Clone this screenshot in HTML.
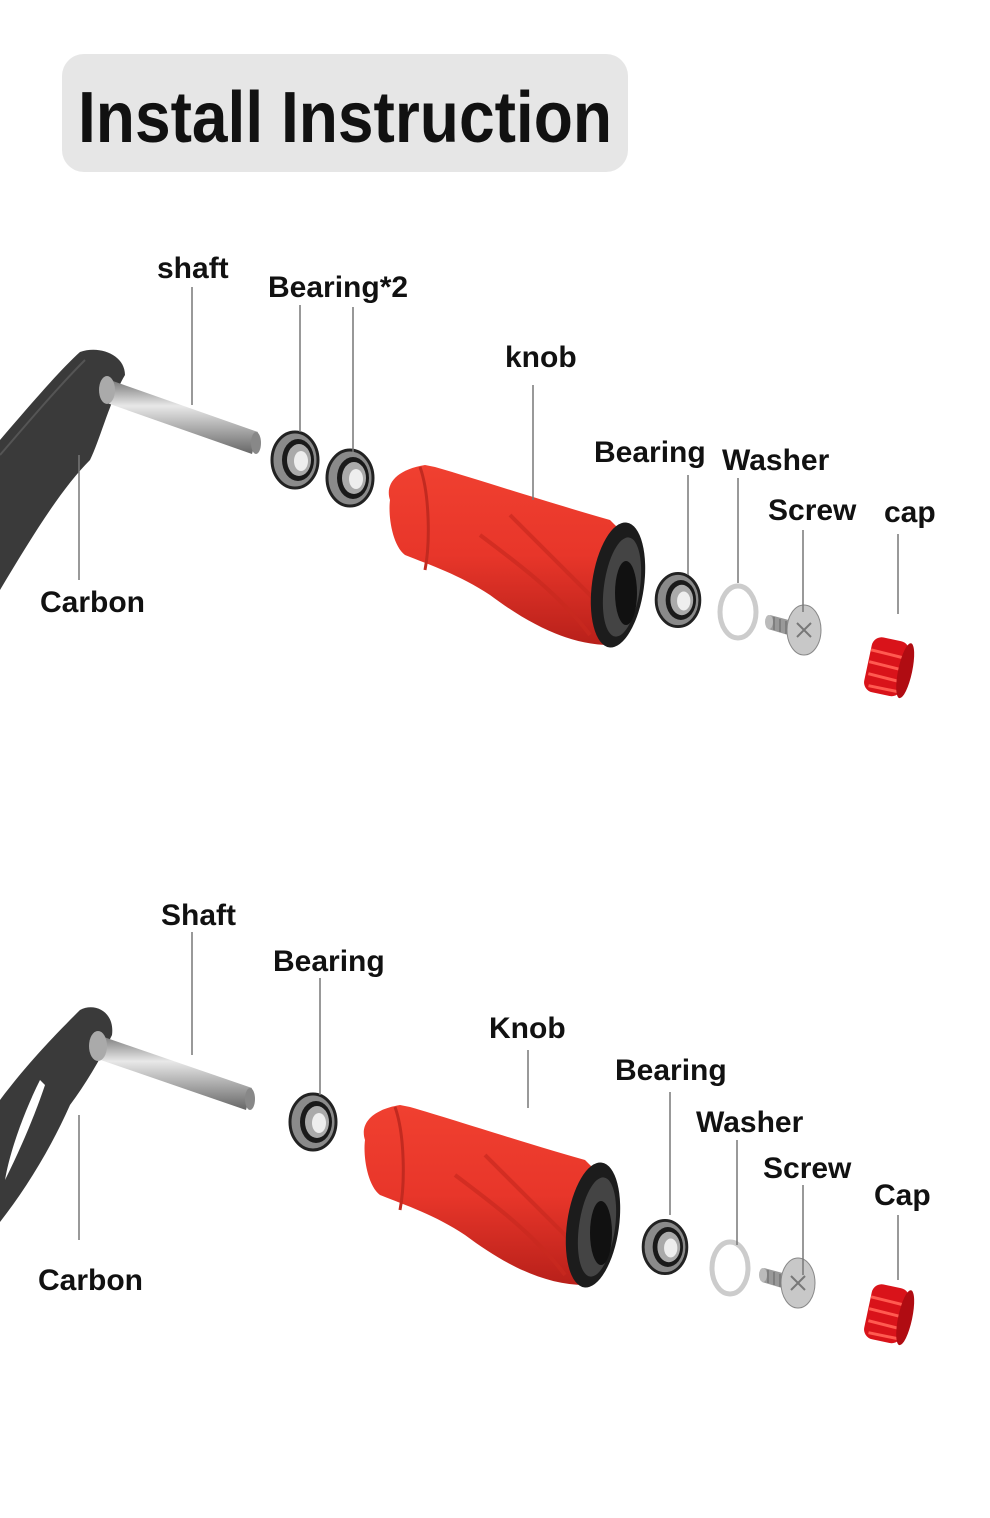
<!DOCTYPE html>
<html><head><meta charset="utf-8"><style>
html,body{margin:0;padding:0;background:#fff;}
svg{display:block}
.l{font-family:"Liberation Sans",sans-serif;font-weight:bold;font-size:30px;fill:#111}
.t{font-family:"Liberation Sans",sans-serif;font-weight:bold;font-size:72px;fill:#111}
.ln{stroke:#777;stroke-width:1.5}
</style></head><body>
<svg width="990" height="1518" viewBox="0 0 990 1518" xmlns="http://www.w3.org/2000/svg">
<defs>
<linearGradient id="sh" x1="0" y1="0" x2="0" y2="1"><stop offset="0" stop-color="#777"/><stop offset="0.35" stop-color="#e8e8e8"/><stop offset="1" stop-color="#666"/></linearGradient>
<linearGradient id="kn" x1="0" y1="0" x2="0" y2="1"><stop offset="0" stop-color="#f04030"/><stop offset="0.5" stop-color="#e8362a"/><stop offset="1" stop-color="#b8201a"/></linearGradient>
<g id="bear"><ellipse cx="0" cy="0" rx="23" ry="28" fill="#8a8a8a" stroke="#222" stroke-width="3"/><ellipse cx="3" cy="0" rx="16" ry="21" fill="#1a1a1a"/><ellipse cx="4" cy="0" rx="12" ry="16" fill="#aaa"/><ellipse cx="6" cy="1" rx="7" ry="10" fill="#eee"/></g>
<g id="knob">
<path d="M0,25 C-5,10 5,-5 35,-10 L45,-8 C90,5 150,25 220,45 L235,60 C250,120 245,160 220,170 C180,170 140,150 100,120 C70,100 40,90 15,80 C2,70 -2,40 0,25Z" fill="url(#kn)"/>
<path d="M30,-8 C40,20 40,70 35,95" stroke="#c22a20" stroke-width="3" fill="none"/>
<path d="M90,60 C130,90 170,120 200,160 M120,40 C150,70 180,100 210,130" stroke="#c9291f" stroke-width="4" fill="none" opacity="0.7"/>
<ellipse cx="228" cy="110" rx="26" ry="63" transform="rotate(8 228 110)" fill="#1c1c1c"/>
<ellipse cx="232" cy="112" rx="18" ry="50" transform="rotate(8 232 112)" fill="#444"/>
<ellipse cx="236" cy="118" rx="11" ry="32" fill="#111"/>
</g>
<g id="screw"><path d="M0,-7 L30,1 L28,16 L-2,7Z" fill="#999"/><path d="M4,-5 L4,8 M10,-3 L10,10 M16,-1 L16,12 M22,1 L22,14" stroke="#777" stroke-width="1.5"/><ellipse cx="-1" cy="0" rx="4" ry="7" fill="#bbb"/><ellipse cx="34" cy="8" rx="17" ry="25" fill="#c8c8c8" stroke="#888"/><path d="M27,1 L41,15 M41,1 L27,15" stroke="#777" stroke-width="2"/></g>
<g id="cap"><rect x="-20" y="-26" width="38" height="56" rx="10" transform="rotate(12)" fill="#d9131a"/><path d="M-18,-14 L16,-8 M-19,-2 L15,4 M-19,10 L14,16 M-18,22 L12,26" stroke="#ff5a50" stroke-width="3" transform="rotate(4)"/><ellipse cx="18" cy="2" rx="7" ry="28" transform="rotate(12)" fill="#b00c12"/></g>
</defs>

<rect x="62" y="54" width="566" height="118" rx="22" fill="#e6e6e6"/>
<text class="t" x="78" y="142" textLength="534" lengthAdjust="spacingAndGlyphs">Install Instruction</text>

<!-- TOP -->
<path d="M0,440 C30,405 60,370 80,352 C100,345 125,355 125,375 C110,400 100,440 90,460 C60,490 30,540 0,590Z" fill="#3a3a3a"/>
<path d="M0,455 C30,420 60,385 85,360" stroke="#555" stroke-width="2" fill="none"/>
<path d="M110,380 L258,432 L252,454 L104,402Z" fill="url(#sh)"/>
<ellipse cx="107" cy="390" rx="8" ry="14" fill="#aaa"/>
<ellipse cx="256" cy="443" rx="5" ry="11" fill="#888"/>
<use href="#bear" x="295" y="460"/>
<use href="#bear" x="350" y="478"/>
<use href="#knob" x="390" y="475"/>
<use href="#bear" transform="translate(678,600) scale(0.95)"/>
<ellipse cx="738" cy="612" rx="18" ry="26" fill="none" stroke="#ccc" stroke-width="5"/>
<use href="#screw" x="770" y="622"/>
<use href="#cap" x="888" y="665"/>

<text class="l" x="157" y="278">shaft</text><line class="ln" x1="192" y1="287" x2="192" y2="405"/>
<text class="l" x="268" y="297">Bearing*2</text><line class="ln" x1="300" y1="305" x2="300" y2="432"/><line class="ln" x1="353" y1="307" x2="353" y2="452"/>
<text class="l" x="505" y="367">knob</text><line class="ln" x1="533" y1="385" x2="533" y2="500"/>
<text class="l" x="594" y="462">Bearing</text><line class="ln" x1="688" y1="475" x2="688" y2="575"/>
<text class="l" x="722" y="470">Washer</text><line class="ln" x1="738" y1="478" x2="738" y2="583"/>
<text class="l" x="768" y="520">Screw</text><line class="ln" x1="803" y1="530" x2="803" y2="612"/>
<text class="l" x="884" y="522">cap</text><line class="ln" x1="898" y1="534" x2="898" y2="614"/>
<text class="l" x="40" y="612">Carbon</text><line class="ln" x1="79" y1="455" x2="79" y2="580"/>

<!-- BOTTOM -->
<path d="M0,1100 C30,1060 60,1030 80,1010 C95,1002 115,1012 112,1035 C100,1060 85,1085 70,1105 C50,1150 25,1190 0,1222Z" fill="#3a3a3a"/>
<path d="M40,1080 C25,1110 10,1150 5,1180 C20,1150 35,1115 45,1085Z" fill="#fff"/>
<path d="M98,1035 L252,1088 L246,1110 L92,1057Z" fill="url(#sh)"/>
<ellipse cx="98" cy="1046" rx="9" ry="15" fill="#aaa"/>
<ellipse cx="250" cy="1099" rx="5" ry="11" fill="#888"/>
<use href="#bear" x="313" y="1122"/>
<use href="#knob" x="365" y="1115"/>
<use href="#bear" transform="translate(665,1247) scale(0.95)"/>
<ellipse cx="730" cy="1268" rx="18" ry="26" fill="none" stroke="#ccc" stroke-width="5"/>
<use href="#screw" x="764" y="1275"/>
<use href="#cap" x="888" y="1312"/>

<text class="l" x="161" y="925">Shaft</text><line class="ln" x1="192" y1="932" x2="192" y2="1055"/>
<text class="l" x="273" y="971">Bearing</text><line class="ln" x1="320" y1="978" x2="320" y2="1095"/>
<text class="l" x="489" y="1038">Knob</text><line class="ln" x1="528" y1="1050" x2="528" y2="1108"/>
<text class="l" x="615" y="1080">Bearing</text><line class="ln" x1="670" y1="1092" x2="670" y2="1215"/>
<text class="l" x="696" y="1132">Washer</text><line class="ln" x1="737" y1="1140" x2="737" y2="1245"/>
<text class="l" x="763" y="1178">Screw</text><line class="ln" x1="803" y1="1185" x2="803" y2="1275"/>
<text class="l" x="874" y="1205">Cap</text><line class="ln" x1="898" y1="1215" x2="898" y2="1280"/>
<text class="l" x="38" y="1290">Carbon</text><line class="ln" x1="79" y1="1115" x2="79" y2="1240"/>
</svg>
</body></html>
